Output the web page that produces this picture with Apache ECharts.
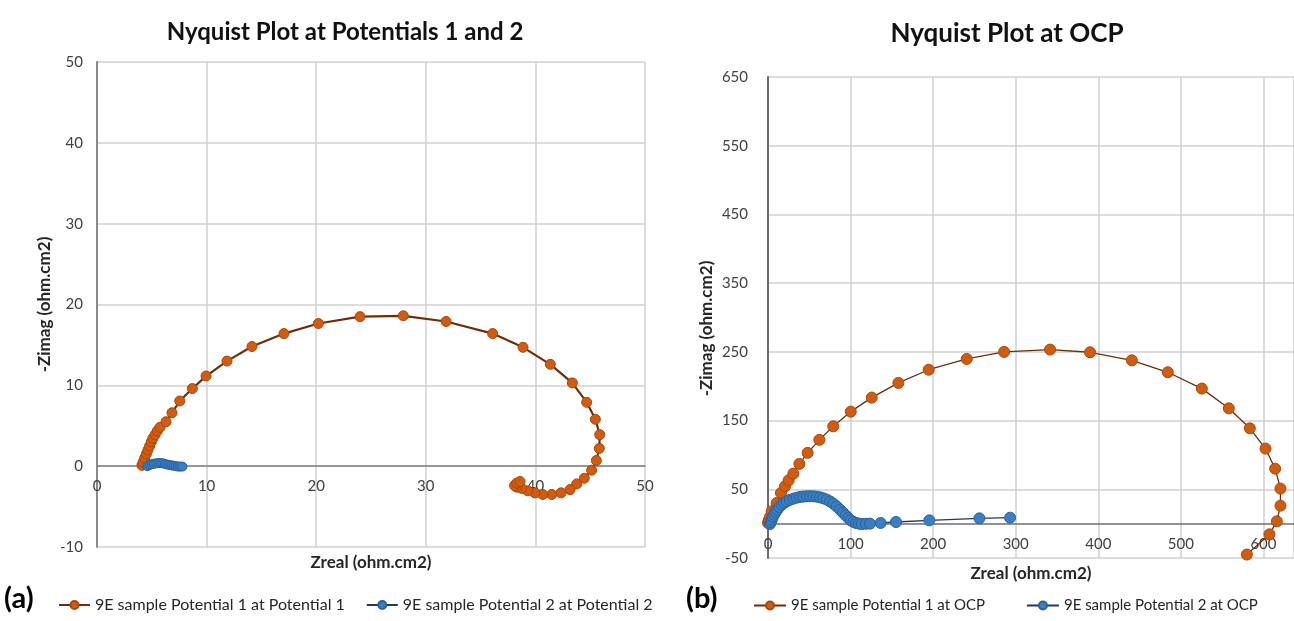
<!DOCTYPE html>
<html><head><meta charset="utf-8">
<script src="https://cdn.jsdelivr.net/npm/echarts@6/dist/echarts.min.js"></script>
<style>html,body{margin:0;padding:0;background:#fff}#c{width:1294px;height:621px}</style>
</head><body><div id="c"></div>
<script>
// ---- Chart (a): Nyquist Plot at Potentials 1 and 2 ----
const aP1Zreal = [4.1,4.2,4.35,4.5,4.65,4.8,4.95,5.1,5.3,5.5,5.75,6.3,6.84,7.55,8.7,9.95,11.86,14.14,17.06,20.2,24.0,27.95,31.85,36.1,38.87,41.36,43.37,44.68,45.47,45.87,45.83,45.56,45.13,44.46,43.77,43.16,42.34,41.5,40.67,39.96,39.3,38.75,38.3,38.1,38.3,38.6];
const aP1Zimag = [0.1,0.5,1.0,1.5,2.0,2.5,3.0,3.45,3.9,4.35,4.8,5.5,6.6,8.06,9.6,11.15,13.0,14.8,16.4,17.65,18.5,18.6,17.9,16.4,14.7,12.6,10.3,7.9,5.8,3.9,2.2,0.7,-0.5,-1.5,-2.2,-2.9,-3.3,-3.5,-3.5,-3.3,-3.05,-2.75,-2.6,-2.4,-2.1,-1.9];
const aP2Zreal = [4.6,4.8,5.0,5.2,5.4,5.6,5.8,6.0,6.2,6.4,6.6,6.8,7.0,7.2,7.4,7.6,7.8];
const aP2Zimag = [0.0,0.15,0.25,0.3,0.35,0.38,0.38,0.35,0.28,0.2,0.15,0.1,0.05,0.0,-0.05,-0.05,-0.05];
const aXTicks = {min:0, max:50, interval:10};
const aYTicks = {min:-10, max:50, interval:10};

// ---- Chart (b): Nyquist Plot at OCP ----
const bP1Zreal = [0,1,2.5,4.5,10.5,15.7,20.6,25,30.7,38,48,62.2,79,100.2,125.6,157.9,194.6,240.7,285.9,341.6,390,440.6,484.2,525.4,558,583.5,602.5,614.2,620.6,620.6,616.2,607.3,579.9];
const bP1Zimag = [1,5,10,18,30,44.7,54.3,63,72.8,86.9,103,122,141.6,163,183.4,204.8,224,239.7,249.9,253.3,249.4,237.7,220.3,196.5,167.8,138.7,109.2,80,51,26.2,3.4,-15.5,-45];
const bP2Zreal = [2.4,3.5,4.5,5.8,7.3,9.2,11.3,13.8,16.6,19.5,22.6,26.5,30.7,34.7,38.8,42.8,46.9,51,55,59,63,67,71.1,75.2,79.2,83.2,87.2,90.7,94.1,97.2,100.2,103.4,106.6,110,113.5,118.5,123.6,136.5,155,195.4,256,293.2];
const bP2Zimag = [-0.5,2.5,5.8,9.5,13,16.8,20.4,24.2,27.6,30.2,32.5,34.6,36.4,37.8,38.8,39.4,39.8,39.9,39.8,39.2,38.3,36.9,35,32.3,29.1,25,20.4,16.2,12.1,8.3,4.8,2.6,1,0,-0.5,-0.2,0,1,2.4,4.8,7.7,8.7];
const bXTicks = {min:0, max:637, interval:100};
const bYTicks = {min:-50, max:650, interval:100};

const zip = (xs, ys) => xs.map((x, i) => [x, ys[i]]);

const FONT = 'Lato';
const ORANGE = '#d05c12', ORANGE_B = '#a7470a', BROWN = '#6e2c07';
const BLUE = '#3a7fc4', BLUE_B = '#2a6099', NAVY = '#1f3864';
const lbl = {color:'#404040', fontFamily:FONT, fontSize:15};
const nameStyle = {color:'#262626', fontFamily:FONT, fontSize:17, fontWeight:'bold'};
const grid0 = {lineStyle:{color:'#d0d0d0', width:1.5}};

const chart = echarts.init(document.getElementById('c'));
chart.setOption({
  animation:false,
  backgroundColor:'#fff',
  title:[
    {text:'Nyquist Plot at Potentials 1 and 2', left:340, top:15, textAlign:'center',
     textStyle:{fontFamily:FONT, fontSize:24, fontWeight:'bold', color:'#111'}},
    {text:'Nyquist Plot at OCP', left:1002, top:16, textAlign:'center',
     textStyle:{fontFamily:FONT, fontSize:26, fontWeight:'bold', color:'#111'}}
  ],
  graphic:[
    {type:'text', left:4, top:584, style:{text:'(a)', fontFamily:FONT, fontSize:29, fontWeight:'bold', fill:'#000'}},
    {type:'text', left:686, top:584, style:{text:'(b)', fontFamily:FONT, fontSize:29, fontWeight:'bold', fill:'#000'}}
  ],
  legend:[
    {left:53, top:592, width:630, itemWidth:31, itemHeight:10, itemGap:21,
     textStyle:{fontFamily:FONT, fontSize:16, color:'#262626'},
     data:['9E sample Potential 1 at Potential 1','9E sample Potential 2 at Potential 2']},
    {left:748, top:593, width:546, itemWidth:32, itemHeight:10, itemGap:41,
     textStyle:{fontFamily:FONT, fontSize:15, color:'#262626'},
     data:['9E sample Potential 1 at OCP','9E sample Potential 2 at OCP']}
  ],
  grid:[
    {left:97, top:62, width:548, height:485, outerBoundsMode:'none', containLabel:false},
    {left:768, top:77, right:0, height:481, outerBoundsMode:'none', containLabel:false}
  ],
  xAxis:[
    {type:'value', gridIndex:0, min:aXTicks.min, max:aXTicks.max, interval:aXTicks.interval,
     offset:-81,
     axisLine:{onZero:false, lineStyle:{color:'#7f7f7f', width:1.5}}, axisTick:{show:false},
     axisLabel:Object.assign({margin:13}, lbl), splitLine:grid0,
     name:'Zreal (ohm.cm2)', nameLocation:'middle', nameGap:88, nameTextStyle:nameStyle},
    {type:'value', gridIndex:1, min:bXTicks.min, max:bXTicks.max, interval:bXTicks.interval,
     offset:-34,
     axisLine:{onZero:false, lineStyle:{color:'#6f6f6f', width:1.5}}, axisTick:{show:false},
     axisLabel:Object.assign({margin:13, showMaxLabel:false, formatter:v => (v % 100 === 0 ? String(v) : '')}, lbl),
     splitLine:grid0,
     name:'Zreal (ohm.cm2)', nameLocation:'middle', nameGap:41, nameTextStyle:nameStyle}
  ],
  yAxis:[
    {type:'value', gridIndex:0, min:aYTicks.min, max:aYTicks.max, interval:aYTicks.interval,
     axisLine:{show:true, onZero:false, lineStyle:{color:'#8a8a8a', width:2}}, axisTick:{show:false},
     axisLabel:Object.assign({margin:14}, lbl), splitLine:grid0,
     name:'-Zimag (ohm.cm2)', nameLocation:'middle', nameGap:44, nameTextStyle:nameStyle},
    {type:'value', gridIndex:1, min:bYTicks.min, max:bYTicks.max, interval:bYTicks.interval,
     axisLine:{show:true, onZero:false, lineStyle:{color:'#6a6a6a', width:2}}, axisTick:{show:false},
     axisLabel:Object.assign({margin:20}, lbl), splitLine:grid0,
     name:'-Zimag (ohm.cm2)', nameLocation:'middle', nameGap:53,
     nameTextStyle:Object.assign({padding:[0, 22, 0, 0]}, nameStyle)}
  ],
  series:[
    {name:'9E sample Potential 1 at Potential 1', type:'line', xAxisIndex:0, yAxisIndex:0,
     data:zip(aP1Zreal, aP1Zimag), symbol:'circle', symbolSize:10, showAllSymbol:true,
     lineStyle:{color:BROWN, width:2.2}, itemStyle:{color:ORANGE, borderColor:ORANGE_B, borderWidth:1}},
    {name:'9E sample Potential 2 at Potential 2', type:'line', xAxisIndex:0, yAxisIndex:0,
     data:zip(aP2Zreal, aP2Zimag), symbol:'circle', symbolSize:9, showAllSymbol:true,
     lineStyle:{color:NAVY, width:2.2}, itemStyle:{color:BLUE, borderColor:BLUE_B, borderWidth:1}},
    {name:'9E sample Potential 1 at OCP', type:'line', xAxisIndex:1, yAxisIndex:1,
     data:zip(bP1Zreal, bP1Zimag), symbol:'circle', symbolSize:11, showAllSymbol:true,
     lineStyle:{color:BROWN, width:1.3}, itemStyle:{color:ORANGE, borderColor:ORANGE_B, borderWidth:1}},
    {name:'9E sample Potential 2 at OCP', type:'line', xAxisIndex:1, yAxisIndex:1,
     data:zip(bP2Zreal, bP2Zimag), symbol:'circle', symbolSize:11, showAllSymbol:true,
     lineStyle:{color:NAVY, width:1.3}, itemStyle:{color:BLUE, borderColor:BLUE_B, borderWidth:1}}
  ]
});
</script>
</body></html>
